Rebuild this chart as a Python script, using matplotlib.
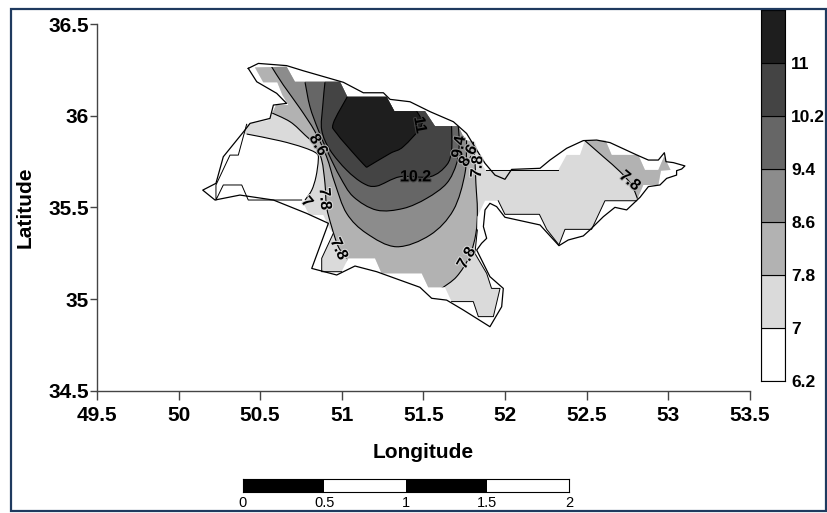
import matplotlib
matplotlib.use("Agg")
import matplotlib.pyplot as plt
import numpy as np
from matplotlib.patches import Polygon, Rectangle, PathPatch
from matplotlib.path import Path
import matplotlib.patheffects as pe

plt.rcParams['font.family'] = ['Liberation Sans', 'DejaVu Sans']

# ---- data -------------------------------------------------------------
x_ticks = [49.5, 50, 50.5, 51, 51.5, 52, 52.5, 53, 53.5]
x_labels = ['49.5', '50', '50.5', '51', '51.5', '52', '52.5', '53', '53.5']
y_ticks = [34.5, 35, 35.5, 36, 36.5]
y_labels = ['34.5', '35', '35.5', '36', '36.5']
levels = [6.2, 7, 7.8, 8.6, 9.4, 10.2, 11, 11.8]
level_labels = ['6.2', '7', '7.8', '8.6', '9.4', '10.2', '11']
band_colors = ['#ffffff', '#dadada', '#b2b2b2', '#8c8c8c', '#666666', '#444444', '#1e1e1e']

coast_lon = [50.427, 50.489, 50.662, 50.764, 50.928, 51.010, 51.132, 51.255, 51.296, 51.418, 51.541,
             51.684, 51.765, 51.827, 51.878, 51.939, 52.000, 52.041, 52.215, 52.276, 52.378, 52.480,
             52.562, 52.644, 52.807, 52.879, 52.940, 52.977, 52.987, 53.032, 53.103, 53.083, 53.052,
             53.052, 52.991, 52.950, 52.879, 52.828, 52.746, 52.674, 52.603, 52.521, 52.480, 52.388,
             52.331, 52.215, 52.000, 51.949, 51.908, 51.878, 51.868, 51.888, 51.857, 51.827, 51.908,
             51.990, 51.980, 51.908, 51.745, 51.643, 51.551, 51.479, 51.214, 51.081, 50.969, 50.816,
             50.918, 50.785, 50.581, 50.376, 50.223, 50.148, 50.229, 50.274, 50.407, 50.438, 50.560,
             50.581, 50.662, 50.601, 50.479, 50.427]
coast_lat = [36.258, 36.285, 36.273, 36.245, 36.203, 36.182, 36.125, 36.125, 36.089, 36.076, 36.022,
             35.967, 35.903, 35.813, 35.740, 35.676, 35.653, 35.707, 35.713, 35.758, 35.822, 35.864,
             35.867, 35.853, 35.786, 35.758, 35.758, 35.798, 35.749, 35.744, 35.726, 35.709, 35.700,
             35.676, 35.658, 35.622, 35.613, 35.555, 35.486, 35.500, 35.449, 35.377, 35.344, 35.322,
             35.291, 35.404, 35.446, 35.504, 35.522, 35.486, 35.395, 35.331, 35.304, 35.267, 35.122,
             35.058, 34.958, 34.849, 34.940, 34.994, 35.004, 35.064, 35.149, 35.180, 35.131, 35.167,
             35.413, 35.467, 35.540, 35.567, 35.540, 35.594, 35.631, 35.776, 35.922, 35.958, 35.985,
             36.058, 36.067, 36.122, 36.185, 36.258]

domain_lon = [50.468, 50.662, 50.713, 50.989, 51.034, 51.275, 51.322, 51.510, 51.571, 51.714, 51.755,
              51.816, 51.867, 51.882, 52.327, 52.378, 52.460, 52.490, 52.617, 52.654, 52.817, 52.858,
              52.940, 52.975, 53.015, 52.956, 52.940, 52.848, 52.807, 52.613, 52.531, 52.368, 52.331,
              52.256, 52.211, 52.000, 51.959, 51.878, 51.831, 51.831, 51.816, 51.888, 51.918, 51.970,
              51.929, 51.837, 51.806, 51.673, 51.632, 51.530, 51.490, 51.244, 51.204, 51.040, 50.999,
              50.877, 50.877, 50.948, 50.924, 50.887, 50.801, 50.754, 50.427, 50.387, 50.274, 50.229,
              50.229, 50.315, 50.366, 50.417, 50.554, 50.597, 50.673, 50.636, 50.605, 50.519]
domain_lat = [36.263, 36.267, 36.185, 36.185, 36.103, 36.103, 36.025, 36.025, 35.943, 35.943, 35.867,
              35.858, 35.722, 35.704, 35.704, 35.786, 35.786, 35.864, 35.864, 35.786, 35.786, 35.704,
              35.704, 35.776, 35.704, 35.700, 35.622, 35.622, 35.536, 35.536, 35.380, 35.380, 35.295,
              35.380, 35.462, 35.462, 35.536, 35.536, 35.449, 35.377, 35.249, 35.140, 35.058, 35.058,
              34.904, 34.904, 34.986, 34.986, 35.064, 35.064, 35.140, 35.140, 35.222, 35.222, 35.149,
              35.149, 35.222, 35.358, 35.385, 35.458, 35.458, 35.540, 35.540, 35.622, 35.622, 35.540,
              35.622, 35.785, 35.785, 35.953, 35.976, 36.058, 36.058, 36.113, 36.182, 36.182]

c70_lon = [50.417, 50.621, 50.764, 50.846, 50.856, 50.842, 50.816, 50.775]
c70_lat = [35.900, 35.863, 35.827, 35.794, 35.758, 35.667, 35.594, 35.540]
c78w_lon = [50.554, 50.683, 50.775, 50.836, 50.877, 50.897, 50.907, 50.938, 50.979, 51.030]
c78w_lat = [36.022, 35.967, 35.894, 35.840, 35.758, 35.631, 35.503, 35.394, 35.285, 35.222]
c78m_lon = [51.612, 51.704, 51.782, 51.822, 51.831, 51.822, 51.816, 51.806]
c78m_lat = [35.058, 35.122, 35.231, 35.358, 35.485, 35.631, 35.758, 35.858]
c78e_lon = [52.490, 52.603, 52.705, 52.776, 52.817]
c78e_lat = [35.864, 35.776, 35.695, 35.622, 35.536]
c86_lon = [50.570, 50.642, 50.744, 50.836, 50.907, 50.958, 51.030, 51.152, 51.336, 51.541, 51.684, 51.755, 51.765]
c86_lat = [36.267, 36.167, 36.040, 35.913, 35.776, 35.631, 35.467, 35.358, 35.285, 35.349, 35.485, 35.685, 35.867]
c94_lon = [50.775, 50.805, 50.856, 50.918, 50.989, 51.071, 51.214, 51.377, 51.520, 51.643, 51.704, 51.720, 51.714]
c94_lat = [36.182, 36.049, 35.922, 35.794, 35.667, 35.558, 35.485, 35.494, 35.549, 35.631, 35.740, 35.849, 35.943]
c102_lon = [50.897, 50.883, 50.877, 50.928, 51.030, 51.132, 51.214, 51.357, 51.541, 51.643, 51.673, 51.673]
c102_lat = [36.182, 36.049, 35.922, 35.813, 35.703, 35.631, 35.616, 35.667, 35.667, 35.731, 35.813, 35.943]
c110a_lon = [51.034, 50.948, 50.969, 51.091, 51.152]
c110a_lat = [36.103, 35.958, 35.903, 35.776, 35.718]
c110b_lon = [51.152, 51.296, 51.377, 51.490, 51.459]
c110b_lat = [35.718, 35.794, 35.831, 35.949, 36.025]

label_text = ['8.6', '7.8', '7', '7.8', '10.2', '11', '7.8', '9.4', '8.6', '7.8', '7.8']
label_lon = [50.857, 50.897, 50.787, 50.983, 51.453, 51.479, 51.765, 51.718, 51.775, 51.830, 52.766]
label_lat = [35.840, 35.546, 35.529, 35.273, 35.667, 35.949, 35.224, 35.829, 35.782, 35.722, 35.645]
label_rot = [-60, -85, -50, -65, 0, -80, 60, 80, 60, 85, -40]
label_bg = ['#b2b2b2', '#dadada', '#dadada', '#dadada', '#444444', '#444444', '#dadada',
            '#8c8c8c', '#b2b2b2', '#dadada', '#b2b2b2']

scale_ticks = [0, 0.5, 1, 1.5, 2]
scale_labels = ['0', '0.5', '1', '1.5', '2']
scale_colors = ['black', 'white', 'black', 'white']

# ---- layout -----------------------------------------------------------
W, H = 828, 513
fig = plt.figure(figsize=(W / 100, H / 100), dpi=100, facecolor='white')


def box(x0, y_top, x1, y_bottom):
    return [x0 / W, 1 - y_bottom / H, (x1 - x0) / W, (y_bottom - y_top) / H]


fig.add_artist(Rectangle((11.5 / W, 1 - 511 / H), (826.5 - 11.5) / W, (511 - 8.5) / H,
                         transform=fig.transFigure, fill=False, edgecolor='#1f3a5f', linewidth=1.6))

ax = fig.add_axes(box(97, 24, 749.7, 390.7))
ax.set_xlim(49.5, 53.5)
ax.set_ylim(34.5, 36.5)
for s in ('top', 'right'):
    ax.spines[s].set_visible(False)
for s in ('left', 'bottom'):
    ax.spines[s].set_color('#444444')
    ax.spines[s].set_linewidth(1.0)
ax.set_xticks(x_ticks, x_labels, fontsize=15, fontweight='bold')
ax.set_yticks(y_ticks, y_labels, fontsize=15, fontweight='bold')
ax.tick_params(axis='x', length=6.5, width=1, color='#444444', pad=4.5)
ax.tick_params(axis='y', length=5, width=1, color='#444444', pad=1)
ax.set_xlabel('Longitude', fontsize=15, fontweight='bold', va='center')
ax.xaxis.set_label_coords(0.5, (390.7 - 452.5) / 366.7)
ax.set_ylabel('Latitude', fontsize=15, fontweight='bold', va='center')
ax.yaxis.set_label_coords((25 - 97) / 652.7, 0.5)

clip = Polygon(list(zip(domain_lon, domain_lat)), closed=True, transform=ax.transData)


def curve_steps(lons, lats):
    """Bezier control points that pass a smooth curve through the read points."""
    P = np.column_stack([lons, lats])
    verts = []
    for i in range(len(P) - 1):
        p0 = P[max(i - 1, 0)]
        p1, p2 = P[i], P[i + 1]
        p3 = P[min(i + 2, len(P) - 1)]
        verts += [p1 + (p2 - p0) / 6, p2 - (p3 - p1) / 6, p2]
    return verts


def build(pieces, close):
    """pieces: (lons, lats, smooth). Later pieces join the end of the earlier ones."""
    verts, codes = [], []
    for lons, lats, smooth in pieces:
        if not verts:
            verts.append((lons[0], lats[0]))
            codes.append(Path.MOVETO)
        else:
            verts.append((lons[0], lats[0]))
            codes.append(Path.LINETO)
        if smooth:
            steps = curve_steps(lons, lats)
            verts += steps
            codes += [Path.CURVE4] * len(steps)
        else:
            verts += list(zip(lons[1:], lats[1:]))
            codes += [Path.LINETO] * (len(lons) - 1)
    if close:
        verts.append(verts[0])
        codes.append(Path.CLOSEPOLY)
    return Path(verts, codes)


def band(pieces, color):
    p = PathPatch(build(pieces, True), facecolor=color, edgecolor='none', linewidth=0, zorder=2)
    ax.add_patch(p)
    p.set_clip_path(clip)


def line(pieces):
    p = PathPatch(build(pieces, False), fill=False, edgecolor='black', linewidth=0.8, zorder=3)
    ax.add_patch(p)
    p.set_clip_path(clip)


# painter's order, lowest band first; polygons reach past the domain and are clipped to it
ax.fill(domain_lon, domain_lat, color=band_colors[1], linewidth=0, zorder=1)
band([(c70_lon, c70_lat, True), ([50.70, 50.00, 50.00], [35.40, 35.40, 35.90], False)], band_colors[0])
band([(c78w_lon, c78w_lat, True), ([51.04, 51.612], [35.00, 35.00], False), (c78m_lon, c78m_lat, True),
      ([51.80, 50.30, 50.30], [36.40, 36.40, 36.10], False)], band_colors[2])
band([(c78e_lon, c78e_lat, True), ([53.2, 53.2, 52.49], [35.536, 36.0, 36.0], False)], band_colors[2])
band([(c86_lon, c86_lat, True), ([51.765, 50.570], [36.4, 36.4], False)], band_colors[3])
band([(c94_lon, c94_lat, True), ([51.714, 50.775], [36.4, 36.4], False)], band_colors[4])
band([(c102_lon, c102_lat, True), ([51.673, 50.897], [36.4, 36.4], False)], band_colors[5])
band([(c110a_lon, c110a_lat, True), (c110b_lon, c110b_lat, True), ([51.459, 51.034], [36.4, 36.4], False)],
     band_colors[6])

for lo, la in [(c70_lon, c70_lat), (c78w_lon, c78w_lat), (c78m_lon, c78m_lat), (c78e_lon, c78e_lat),
               (c86_lon, c86_lat), (c94_lon, c94_lat), (c102_lon, c102_lat),
               (c110a_lon, c110a_lat), (c110b_lon, c110b_lat)]:
    line([(lo, la, True)])

# stretches of the grid outline that carry a black line in the map
for a, b in [(13, 14), (28, 36), (39, 47), (54, 57), (61, 69)]:
    ax.plot(domain_lon[a:b + 1], domain_lat[a:b + 1], color='black', linewidth=0.7, zorder=3)

ax.plot(coast_lon, coast_lat, color='black', linewidth=0.9, zorder=4)

for t, lo, la, r, bg in zip(label_text, label_lon, label_lat, label_rot, label_bg):
    ax.text(lo, la, t, rotation=r, rotation_mode='anchor', ha='center', va='center',
            fontsize=11.5, fontweight='bold', color='black', zorder=5,
            path_effects=[pe.withStroke(linewidth=1.5, foreground=bg)])

# colour key
cax = fig.add_axes(box(761, 10, 785, 381))
cax.bar([0] * 7, [levels[i + 1] - levels[i] for i in range(7)], bottom=levels[:-1], width=1,
        color=band_colors, edgecolor='black', linewidth=0.8)
cax.set_xlim(-0.5, 0.5)
cax.set_ylim(levels[0], levels[-1])
cax.set_xticks([])
cax.yaxis.tick_right()
cax.set_yticks(levels[:-1], level_labels, fontsize=12.5, fontweight='bold')
cax.tick_params(axis='y', length=0, pad=4.5)
for s in cax.spines.values():
    s.set_linewidth(0.8)

# scale bar
sax = fig.add_axes(box(242.7, 479, 569, 491.7))
sax.bar(scale_ticks[:-1], 1, width=0.5, align='edge', bottom=0, color=scale_colors, linewidth=0)
sax.set_xlim(0, 2)
sax.set_ylim(0, 1)
sax.set_yticks([])
sax.set_xticks(scale_ticks, scale_labels, fontsize=10.5)
sax.tick_params(axis='x', length=0, pad=3)
for s in sax.spines.values():
    s.set_linewidth(0.8)

fig.savefig('out.png', dpi=100)
